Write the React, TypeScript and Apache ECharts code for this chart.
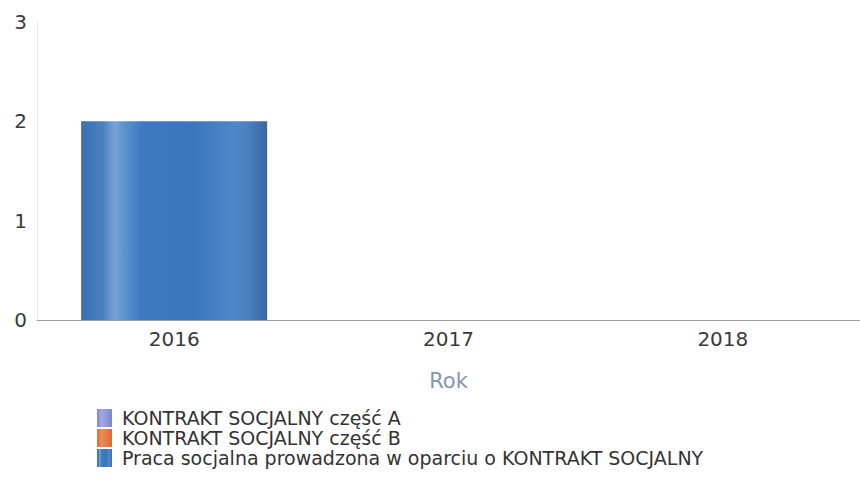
import React, { useEffect, useRef } from "react";
import * as echarts from "echarts";

const categories = ["2016", "2017", "2018"];
const seriesNames = [
  "KONTRAKT SOCJALNY część A",
  "KONTRAKT SOCJALNY część B",
  "Praca socjalna prowadzona w oparciu o KONTRAKT SOCJALNY",
];
const valuesA: (number | null)[] = [null, null, null];
const valuesB: (number | null)[] = [null, null, null];
const valuesPraca: (number | null)[] = [2, null, null];
const yTicks = [0, 1, 2, 3];

const FONT = "DejaVu Sans";

export default function App() {
  const ref = useRef<HTMLDivElement>(null);
  useEffect(() => {
    if (!ref.current) return;
    const chart = echarts.init(ref.current, undefined, { renderer: "svg" });
    const grad = (stops: [number, string][]) =>
      new echarts.graphic.LinearGradient(0, 0, 1, 0, stops.map(([offset, color]) => ({ offset, color })));
    const colA = grad([[0, "#7f86d0"], [0.3, "#a4a8e4"], [1, "#7e84cc"]]);
    const colB = grad([[0, "#e0703a"], [0.3, "#f08a55"], [1, "#dc6a34"]]);
    const colC = grad([
      [0, "#3b6fb2"],
      [0.12, "#4a80c2"],
      [0.18, "#78a4d6"],
      [0.24, "#5a90cc"],
      [0.32, "#3f7bc2"],
      [0.6, "#3a76be"],
      [0.82, "#4f88c8"],
      [0.9, "#4a80c0"],
      [1, "#3a65a0"],
    ]);
    chart.setOption({
      animation: false,
      backgroundColor: "#ffffff",
      textStyle: { fontFamily: FONT },
      grid: { left: 37, right: 0, top: 22, bottom: 159, containLabel: false },
      xAxis: {
        type: "category",
        data: categories,
        name: "Rok",
        nameLocation: "middle",
        nameGap: 50,
        nameTextStyle: { color: "#8a95ab", fontSize: 21, fontFamily: FONT },
        axisLine: { lineStyle: { color: "#9aa0aa", width: 1 } },
        axisTick: { show: false },
        axisLabel: { color: "#3a3a3a", fontSize: 20, margin: 9, fontFamily: FONT },
      },
      yAxis: {
        type: "value",
        min: 0,
        max: yTicks[yTicks.length - 1],
        interval: 1,
        axisLine: { show: true, lineStyle: { color: "#e6e8ec" } },
        axisTick: { show: false },
        splitLine: { show: false },
        axisLabel: { color: "#3a3a3a", fontSize: 20, margin: 10, fontFamily: FONT },
      },
      legend: {
        orient: "vertical",
        left: 97,
        top: 408,
        padding: 0,
        itemWidth: 15,
        itemHeight: 18,
        itemGap: 0,
        icon: "rect",
        textStyle: { color: "#333", fontSize: 19, lineHeight: 20, fontFamily: FONT, padding: [0, 0, 0, 5] },
        data: seriesNames,
      },
      series: [
        { name: seriesNames[0], type: "bar", stack: "s", data: valuesA, itemStyle: { color: colA }, barWidth: 186 },
        { name: seriesNames[1], type: "bar", stack: "s", data: valuesB, itemStyle: { color: colB }, barWidth: 186 },
        { name: seriesNames[2], type: "bar", stack: "s", data: valuesPraca, itemStyle: { color: colC }, barWidth: 186 },
      ],
    });
    return () => chart.dispose();
  }, []);
  return <div ref={ref} style={{ width: 860, height: 479, position: "absolute", left: 0, top: 0 }} />;
}
